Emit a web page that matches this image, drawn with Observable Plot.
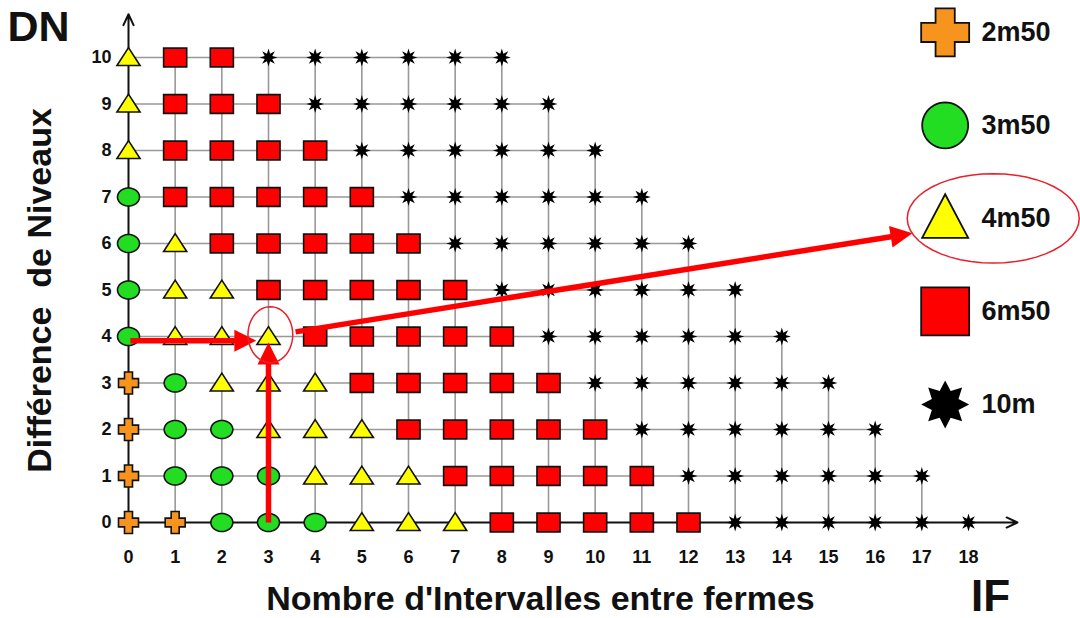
<!DOCTYPE html>
<html><head><meta charset="utf-8">
<script src="https://cdn.jsdelivr.net/npm/d3@7"></script>
<script src="https://cdn.jsdelivr.net/npm/@observablehq/plot@0.6"></script>
<style>body{margin:0;background:#fff}</style>
</head><body><div id="chart"></div>
<script>
// ---- data ----
const categories = ["2m50", "3m50", "4m50", "6m50", "10m"];
const codes = ["P", "C", "T", "S", "X"]; // code letter -> category index
const colors = ["#F7941D", "#22DD22", "#FFFF00", "#FF0000", "#000000"];
// one string per DN row (0..10); character i = category at IF = i
const rows = [
  "PPCCCTTTSSSSSXXXXXX",
  "PCCCTTTSSSSSXXXXXX",
  "PCCTTTSSSSSXXXXXX",
  "PCTTTSSSSSXXXXXX",
  "CTTTSSSSSXXXXXX",
  "CTTSSSSSXXXXXX",
  "CTSSSSSXXXXXX",
  "CSSSSSXXXXXX",
  "TSSSSXXXXXX",
  "TSSSXXXXXX",
  "TSSXXXXXX"
];
const xTicks = d3.range(0, 19);
const yTicks = d3.range(0, 11);
// red annotation arrows (IF, DN), tip at (x2, y2)
const redArrows = [
  {x1: 0.04, y1: 3.91, x2: 2.74, y2: 3.91},
  {x1: 3.0, y1: 0.0, x2: 3.0, y2: 3.87},
  {x1: 3.58, y1: 4.1, x2: 16.8, y2: 6.22}
];
const highlightPoint = {x: 3.04, y: 4.04};

// ---- build table ----
const points = [];
rows.forEach((s, dn) => [...s].forEach((c, i) => points.push({IF: i, DN: dn, cat: categories[codes.indexOf(c)]})));
const hLines = rows.map((s, dn) => ({dn, x2: s.length - 1}));
const vLines = xTicks.map(x => ({x, y2: Math.min(10, 18 - x)}));

// ---- layout (mirrors the plot's margins) ----
const W = 1080, H = 618, mL = 128, mR = 112, mT = 57, mB = 96;
const px = d3.scaleLinear([0, 18], [mL, W - mR]);
const py = d3.scaleLinear([0, 10], [H - mB, mT]);
const HEAD = 22;
const arrowGeo = redArrows.map(a => {
  const dx = px(a.x2) - px(a.x1), dy = py(a.y2) - py(a.y1), len = Math.hypot(dx, dy);
  const ux = dx / len, uy = dy / len;
  return {
    x1: a.x1, y1: a.y1,
    lx2: px.invert(px(a.x2) - ux * HEAD * 0.7), ly2: py.invert(py(a.y2) - uy * HEAD * 0.7),
    x2: a.x2, y2: a.y2,
    angle: Math.atan2(dx, -dy) * 180 / Math.PI
  };
});

// ---- custom symbols ----
function poly(pts, sx, sy) {
  return {draw(ctx, size) {
    const r = Math.sqrt(size / Math.PI);
    pts.forEach(([x, y], i) => i ? ctx.lineTo(x * r * sx, y * r * sy) : ctx.moveTo(x * r * sx, y * r * sy));
    ctx.closePath();
  }};
}
const plusPts = [[-.4,-1],[.4,-1],[.4,-.4],[1,-.4],[1,.4],[.4,.4],[.4,1],[-.4,1],[-.4,.4],[-1,.4],[-1,-.4],[-.4,-.4]];
const ellPts = d3.range(48).map(i => [Math.cos(i / 48 * 2 * Math.PI), Math.sin(i / 48 * 2 * Math.PI)]);
const triPts = [[0,-1.05],[1,0.85],[-1,0.85]];
const sqPts = [[-1,-1],[1,-1],[1,1],[-1,1]];
const headPts = [[0,0],[0.5,1],[-0.5,1]];
const starPts = (n, inner) => d3.range(2 * n).map(i => { const a = i / (2 * n) * 2 * Math.PI - Math.PI / 2; const rr = i % 2 ? inner : 1; return [rr * Math.cos(a), rr * Math.sin(a)]; });
const gridSym = [poly(plusPts, 1, 1.1), poly(ellPts, 1, 0.82), poly(triPts, 1.05, 0.85), poly(sqPts, 1.05, 0.85), poly(starPts(8, 0.45), 1, 1)];
const legendSym = [poly(plusPts, 1, 1), poly(ellPts, 1, 1), poly(triPts, 1, 1), poly(sqPts, 1, 1), poly(starPts(8, 0.6), 1, 1)];
const gridR = [10, 11, 11, 11, 9];
const legendR = [24, 23, 23, 24, 24];

const legend = categories.map((c, i) => ({cat: c, i, y: 10.54 - i * 2.0}));

const bold = {fontWeight: "bold", fill: "#111"};
const label = (t, o) => Plot.text([t], {text: d => d, textAnchor: "middle", lineAnchor: "middle", ...bold, ...o});

const chart = Plot.plot({
  width: W, height: H,
  marginLeft: mL, marginRight: mR, marginTop: mT, marginBottom: mB,
  x: {domain: [0, 18], axis: null},
  y: {domain: [0, 10], axis: null},
  style: {fontFamily: "'Liberation Sans', Arial, sans-serif", background: "#fff", overflow: "visible"},
  marks: [
    // grid
    Plot.ruleY(hLines.filter(d => d.dn > 0), {y: "dn", x1: 0, x2: "x2", stroke: "#999", strokeWidth: 1.6}),
    Plot.ruleX(vLines.filter(d => d.x > 0), {x: "x", y1: 0, y2: "y2", stroke: "#999", strokeWidth: 1.6}),
    // axes with arrows
    Plot.arrow([{x1: 0, y1: 0, x2: 19.05, y2: 0}], {x1: "x1", y1: "y1", x2: "x2", y2: "y2", stroke: "#111", strokeWidth: 2, headLength: 9, headAngle: 50}),
    Plot.arrow([{x1: 0, y1: 0, x2: 0, y2: 10.93}], {x1: "x1", y1: "y1", x2: "x2", y2: "y2", stroke: "#111", strokeWidth: 2, headLength: 9, headAngle: 50}),
    // grid symbols
    ...categories.map((c, k) => Plot.dot(points.filter(p => p.cat === c), {
      x: "IF", y: "DN", symbol: gridSym[k], r: gridR[k], fill: colors[k],
      stroke: k === 4 ? "none" : "#111", strokeWidth: 1.6
    })),
    // tick labels
    Plot.text(xTicks, {x: d => d, y: 0, dy: 35, text: d => String(d), fontSize: 18, ...bold}),
    Plot.text(yTicks, {x: 0, y: d => d, dx: -17, textAnchor: "end", text: d => String(d), fontSize: 18, ...bold}),
    // titles
    label("DN", {frameAnchor: "top-left", dx: 38 - mL, dy: 27 - mT, fontSize: 43}),
    label("Différence  de Niveaux", {frameAnchor: "left", rotate: -90, dx: 40 - mL, dy: 290 - (H - mB + mT) / 2, fontSize: 34}),
    label("Nombre d'Intervalles entre fermes", {frameAnchor: "bottom", dx: 540 - (mL + W - mR) / 2, dy: 599 - (H - mB), fontSize: 34}),
    label("IF", {frameAnchor: "bottom-right", dx: 990 - (W - mR), dy: 596 - (H - mB), fontSize: 44}),
    // legend
    ...categories.map((c, k) => Plot.dot(legend.filter(d => d.i === k), {
      x: 17.5, y: "y", symbol: legendSym[k], r: legendR[k], fill: colors[k],
      stroke: k === 4 ? "none" : "#111", strokeWidth: 1.8
    })),
    Plot.text(legend, {x: 18.28, y: "y", text: "cat", textAnchor: "start", fontSize: 27, ...bold}),
    // red annotations
    Plot.link(arrowGeo, {x1: "x1", y1: "y1", x2: "lx2", y2: "ly2", stroke: "#FF0000", strokeWidth: 5.5}),
    Plot.dot(arrowGeo, {x: "x2", y: "y2", rotate: "angle", symbol: poly(headPts, 1, 1), r: HEAD, fill: "#FF0000", stroke: "none"}),
    Plot.dot([highlightPoint], {x: "x", y: "y", symbol: poly(ellPts, 0.8, 1), r: 28, fill: "none", stroke: "#E8202A", strokeWidth: 1.5}),
    Plot.dot([legend[2]], {x: 18.53, y: "y", symbol: poly(ellPts, 1, 0.52), r: 86, fill: "none", stroke: "#E8202A", strokeWidth: 1.5})
  ]
});
document.getElementById("chart").appendChild(chart);
</script>
</body></html>
